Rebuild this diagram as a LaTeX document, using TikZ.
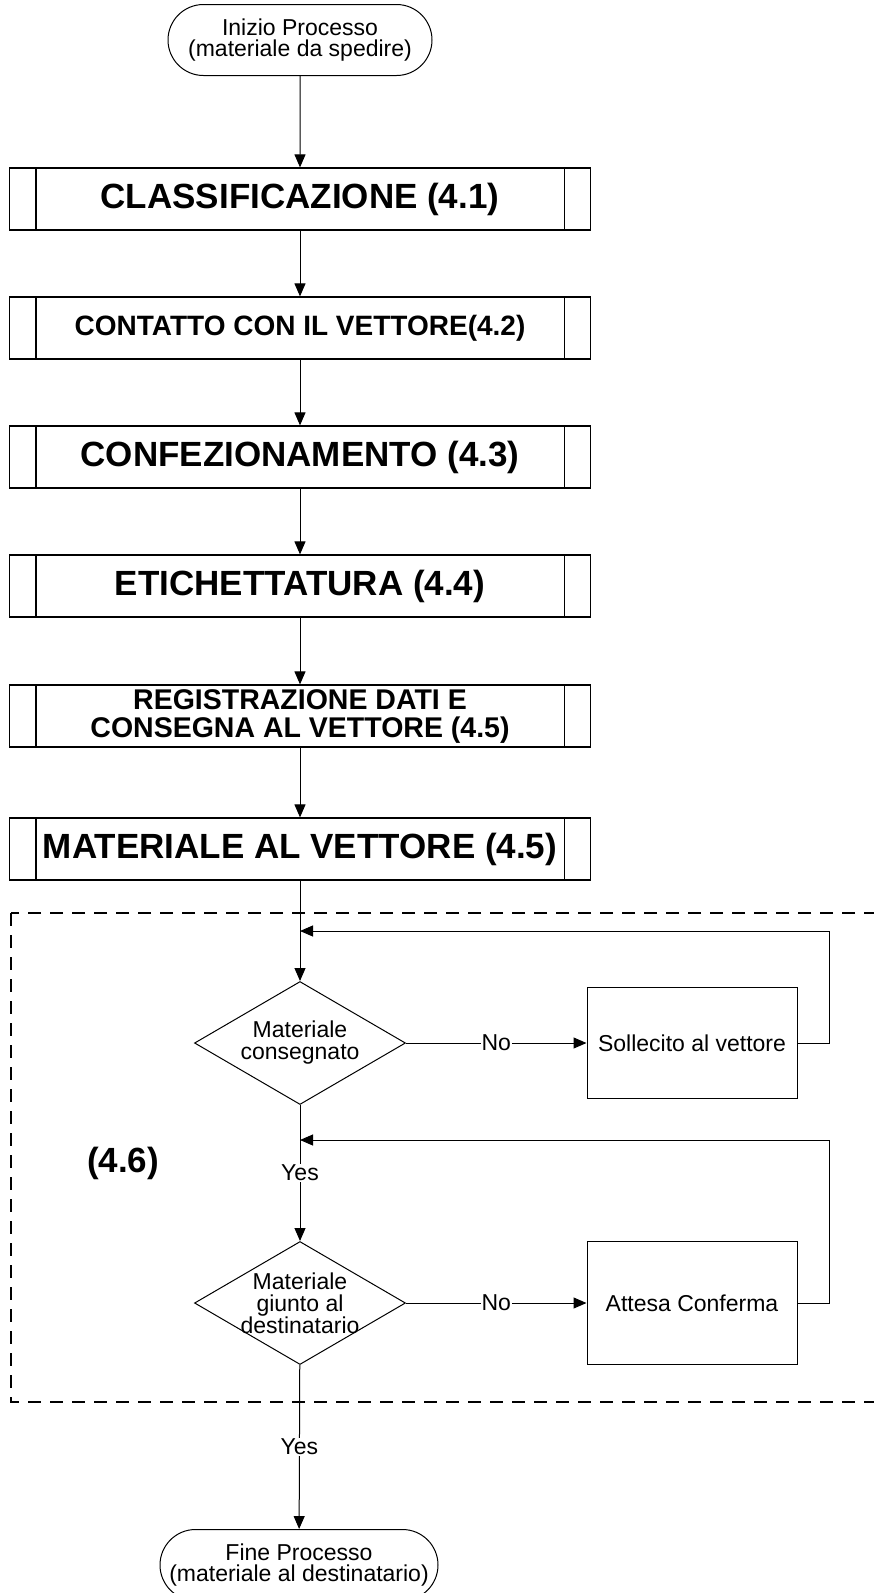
\documentclass[tikz,border=0pt]{standalone}
\usepackage{fontspec}
\setmainfont{Liberation Sans}
\usepackage{tikz}
\usetikzlibrary{calc,shapes.geometric,shapes.misc,arrows.meta}

\begin{document}
\begin{tikzpicture}[x=1pt, y=-1pt, >={Triangle[length=13pt,width=11pt]},
	proc/.style={draw, line width=1.2pt, minimum width=581pt, minimum height=62pt, inner sep=0pt, align=center, font=\fontsize{35}{36}\selectfont\bfseries},
	term/.style={draw, rounded rectangle, line width=1pt, minimum width=264pt, minimum height=71pt, inner sep=0pt, align=center, font=\fontsize{23}{21}\selectfont},
	decision/.style={draw, diamond, line width=1pt, minimum width=211pt, minimum height=123pt, inner sep=0pt},
	dtext/.style={align=center, inner sep=0pt, font=\fontsize{23}{22}\selectfont},
	act/.style={draw, line width=1pt, minimum width=210pt, minimum height=111pt, inner sep=0pt, font=\fontsize{23}{21}\selectfont},
	lbl/.style={fill=white, inner sep=1pt, font=\fontsize{23}{21}\selectfont},
	flow/.style={line width=1pt}]
	\useasboundingbox (0,0) rectangle (873,1593);
	\node[term] (start) at (300,40) {Inizio Processo\\(materiale da spedire)};
	\node[proc] (b1) at (300,199) {CLASSIFICAZIONE (4.1)};
	\node[proc, font=\fontsize{28}{28}\selectfont\bfseries] (b2) at (300,328) {CONTATTO CON IL VETTORE(4.2)};
	\node[proc] (b3) at (300,457) {CONFEZIONAMENTO (4.3)};
	\node[proc] (b4) at (300,586) {ETICHETTATURA (4.4)};
	\node[proc, font=\fontsize{28.5}{28}\selectfont\bfseries] (b5) at (300,716) {REGISTRAZIONE DATI E\\CONSEGNA AL VETTORE (4.5)};
	\node[proc] (b6) at (300,849) {MATERIALE AL VETTORE (4.5)};
	\foreach \b in {b1,b2,b3,b4,b5,b6} {
		\draw[line width=1.2pt] ([xshift=27pt]\b.north west) -- ([xshift=27pt]\b.south west);
		\draw[line width=1.2pt] ([xshift=-27pt]\b.north east) -- ([xshift=-27pt]\b.south east);
	}
	\draw[dashed, line width=1.8pt, dash pattern=on 13pt off 9pt] (11,913) rectangle (890,1402);
	\node[font=\fontsize{35}{36}\selectfont\bfseries] (sec) at (123,1163) {(4.6)};
	\node[decision, label={[dtext]center:Materiale\\consegnato}] (d1) at (300,1043) {};
	\node[decision, label={[dtext]center:Materiale\\giunto al\\destinatario}] (d2) at (300,1303) {};
	\node[act] (s1) at (692,1043) {Sollecito al vettore};
	\node[act, minimum height=123pt] (s2) at (692,1303) {Attesa Conferma};
	\node[term, minimum width=278pt] (end) at (299,1565) {Fine Processo\\(materiale al destinatario)};
	\coordinate (r1) at (829,931);
	\coordinate (r2) at (829,1140);
	\draw[flow, ->] (start) -- (b1);
	\draw[flow, ->] (b1) -- (b2);
	\draw[flow, ->] (b2) -- (b3);
	\draw[flow, ->] (b3) -- (b4);
	\draw[flow, ->] (b4) -- (b5);
	\draw[flow, ->] (b5) -- (b6);
	\draw[flow, ->] (b6) -- (d1);
	\draw[flow, ->] (d1) -- node[lbl] {No} (s1);
	\draw[flow, ->] (s1.east) -| (r1) -- (r1 -| d1);
	\draw[flow, ->] (d1) -- node[lbl] {Yes} (d2);
	\draw[flow, ->] (d2) -- node[lbl] {No} (s2);
	\draw[flow, ->] (s2.east) -| (r2) -- (r2 -| d2);
	\draw[flow, ->] (d2) -- node[lbl] {Yes} (end);
\end{tikzpicture}
\end{document}
